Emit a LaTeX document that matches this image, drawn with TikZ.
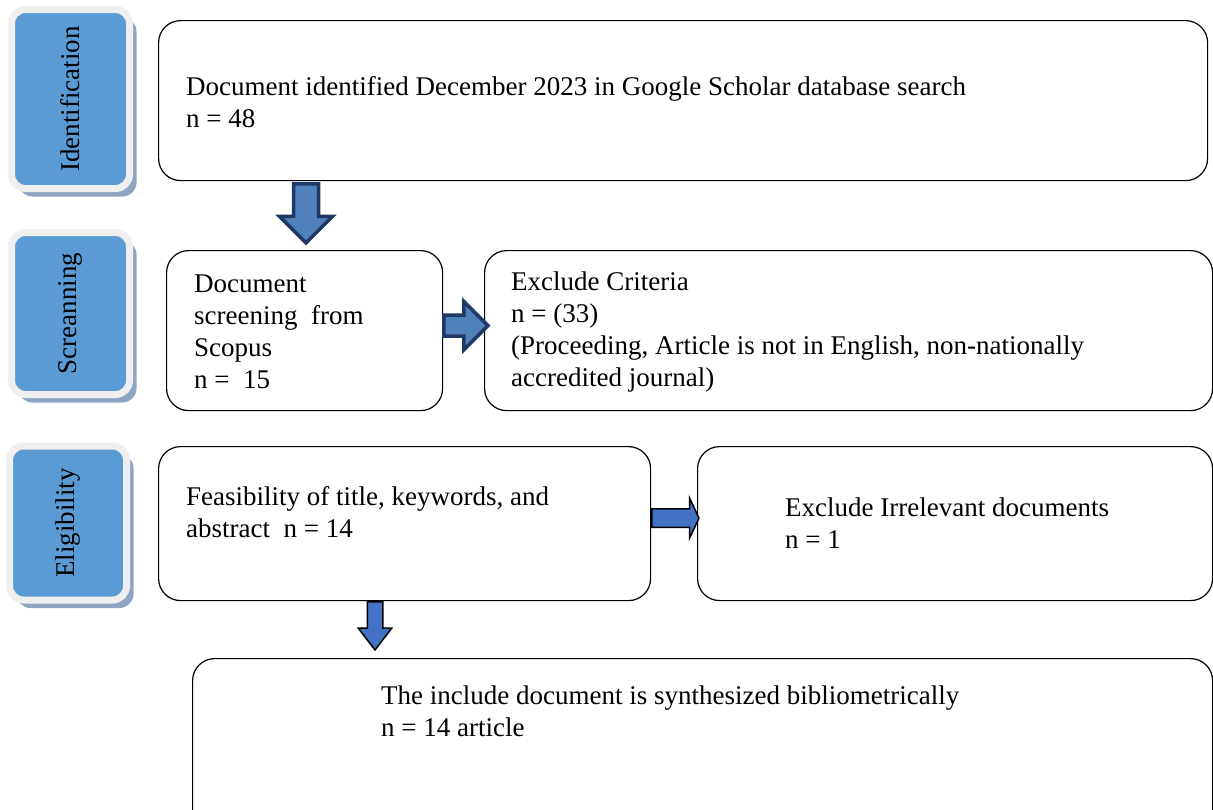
\documentclass[tikz,border=0pt]{standalone}
\usepackage{fontspec}
\setmainfont{Liberation Serif}
\usetikzlibrary{calc,shapes.arrows,shadows}

\definecolor{stageblue}{HTML}{5B9BD5}
\definecolor{stagerim}{HTML}{EFEFEF}
\definecolor{stageshade}{HTML}{8DA5C2}
\definecolor{navyfill}{HTML}{4F81BD}
\definecolor{navyline}{HTML}{1F3864}
\definecolor{flatfill}{HTML}{4472C4}

\begin{document}
\begin{tikzpicture}[x=1pt,y=-1pt,
  stage/.style={rounded corners=14pt,fill=stageblue,draw=stagerim,line width=7pt,
    drop shadow={shadow xshift=7pt,shadow yshift=-8pt,fill=stageshade,opacity=1},
    minimum width=118pt,inner sep=0pt,font=\fontsize{27}{30}\selectfont},
  box/.style={draw,line width=1.2pt,rounded corners=22pt,fill=white,inner sep=0pt,anchor=north west},
  txt/.style={align=left,inner sep=0pt,anchor=west,font=\fontsize{27}{32}\selectfont},
  navyarrow/.style={single arrow,fill=navyfill,draw=navyline,line width=3.5pt,
    single arrow tip angle=90,inner xsep=0pt,minimum width=0pt,anchor=tail},
  flatarrow/.style={single arrow,fill=flatfill,draw=black,line width=1.5pt,
    inner xsep=0pt,minimum width=0pt,anchor=tail}]

 \useasboundingbox (0,0) rectangle (1213,809);

 % stages on the left
 \node[stage,minimum height=179pt] (ident) at (70.5,99) {\rotatebox{90}{Identification}};
 \node[stage,minimum height=162pt] (screen) at (70.5,313.5) {\rotatebox{90}{Screanning}};
 \node[stage,minimum height=154pt,minimum width=117pt] (elig) at (68,523) {\rotatebox{90}{Eligibility}};

 % boxes
 \node[box,minimum width=1049pt,minimum height=160pt] (found) at (158,20) {};
 \node[box,minimum width=276pt,minimum height=160pt] (scopus) at (166,250) {};
 \node[box,minimum width=728pt,minimum height=160pt] (crit) at (484,250) {};
 \node[box,minimum width=492pt,minimum height=154pt] (feas) at (158,446) {};
 \node[box,minimum width=515pt,minimum height=154pt] (irrel) at (697,446) {};
 \node[box,minimum width=1020pt,minimum height=180pt] (incl) at (192,658) {};

 % texts
 \node[txt] (foundtxt) at ($(found.west)+(28,2)$)
   {Document identified December 2023 in Google Scholar database search\\ n = 48};
 \node[txt] (scopustxt) at ($(scopus.west)+(28,1.5)$)
   {Document\\ screening\ \ from\\ Scopus\\ n = \ 15};
 \node[txt] (crittxt) at ($(crit.west)+(27,1.5)$)
   {Exclude Criteria\\ n = (33)\\ (Proceeding, Article is not in English, non-nationally\\ accredited journal)};
 \node[txt] (feastxt) at ($(feas.west)+(28,-11.5)$)
   {Feasibility of title, keywords, and\\ abstract \ n = 14};
 \node[txt] (irreltxt) at ($(irrel.west)+(88,0)$)
   {Exclude Irrelevant documents\\ n = 1};
 \node[txt] (incltxt) at ($(incl.north west)+(189,53)$)
   {The include document is synthesized bibliometrically\\ n = 14 article};

 % arrows between the boxes
 \node[navyarrow,rotate=-90,inner ysep=10.75pt,single arrow head extend=14pt,
   minimum height=59pt] (a1) at ($(found.south west)+(148,1)$) {};
 \node[navyarrow,inner ysep=8.75pt,single arrow head extend=13.5pt,
   minimum height=44pt] (a2) at ($(scopus.east)+(-1,-5)$) {};
 \node[flatarrow,inner ysep=8.5pt,single arrow head extend=11pt,single arrow tip angle=130,
   minimum height=47pt] (a3) at ($(feas.east)+(0,-5.5)$) {};
 \node[flatarrow,rotate=-90,inner ysep=7pt,single arrow head extend=9pt,single arrow tip angle=75,
   minimum height=48pt] (a4) at ($(feas.south west)+(217,0)$) {};

\end{tikzpicture}
\end{document}
